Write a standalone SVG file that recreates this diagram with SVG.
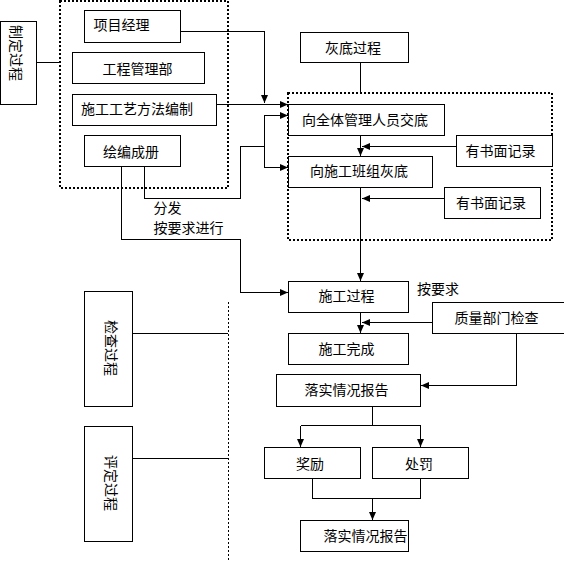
<svg xmlns="http://www.w3.org/2000/svg" width="564" height="562" viewBox="0 0 564 562">
<defs>
<marker id="ah" markerUnits="userSpaceOnUse" markerWidth="9" markerHeight="8" refX="8" refY="3.5" orient="auto">
<path d="M0,0 L8,3.5 L0,7 z" fill="#000"/>
</marker>
<style>
.box{fill:#fff;stroke:#000;stroke-width:1;shape-rendering:crispEdges}
.dot{fill:none;stroke:#000;stroke-width:2;stroke-dasharray:2 2;shape-rendering:crispEdges}
.dotl{fill:none;stroke:#000;stroke-width:1;stroke-dasharray:2 2;shape-rendering:crispEdges}
.ln{fill:none;stroke:#000;stroke-width:1;shape-rendering:crispEdges}
.ar{marker-end:url(#ah)}
text{font-family:"Noto Sans CJK SC","Liberation Sans",sans-serif;font-size:14px;fill:#000;text-anchor:middle;dominant-baseline:central}
</style>
</defs>
<rect width="564" height="562" fill="#fff"/>

<g id="groups">
<rect class="dot" x="60" y="1" width="168" height="187"/>
<rect class="dot" x="288" y="93" width="264" height="147"/>
<line class="dotl" x1="228.5" y1="302" x2="228.5" y2="562"/>
</g>

<g id="connectors">
<polyline class="ln" points="36,62.5 60,62.5"/>
<polyline class="ln ar" points="180,31.5 264.5,31.5 264.5,103"/>
<polyline class="ln ar" points="216,104.5 288,104.5"/>
<polyline class="ln" points="144.5,166 144.5,198.5 240.5,198.5 240.5,146.5 264.5,146.5"/>
<polyline class="ln" points="264.5,114.5 264.5,167.5"/>
<polyline class="ln ar" points="264,115.5 288,115.5"/>
<polyline class="ln ar" points="264,167.5 288,167.5"/>
<polyline class="ln ar" points="121.5,166 121.5,239.5 240.5,239.5 240.5,292.5 288,292.5"/>
<polyline class="ln" points="360.5,62 360.5,93"/>
<polyline class="ln ar" points="360.5,135 360.5,156"/>
<polyline class="ln ar" points="456,146.5 362,146.5"/>
<polyline class="ln ar" points="444,198.5 362,198.5"/>
<polyline class="ln ar" points="360.5,187 360.5,281"/>
<polyline class="ln ar" points="360.5,312 360.5,333"/>
<polyline class="ln ar" points="432,322.5 362,322.5"/>
<polyline class="ln ar" points="516.5,333 516.5,385.5 421,385.5"/>
<polyline class="ln" points="372.5,406 372.5,425.5"/>
<polyline class="ln ar" points="300.5,425.5 300.5,447"/>
<polyline class="ln ar" points="300.5,425.5 420.5,425.5 420.5,447"/>
<polyline class="ln" points="312.5,478 312.5,498.5 420.5,498.5 420.5,478"/>
<polyline class="ln ar" points="372.5,498.5 372.5,520"/>
<polyline class="ln" points="132,333.5 228,333.5"/>
<polyline class="ln" points="132,458.5 228,458.5"/>
</g>

<g id="n-zhiding"><rect class="box" x="0.5" y="21.5" width="36" height="83"/><text transform="translate(17,53) rotate(90)">制定过程</text></g>
<g id="n-xiangmu"><rect class="box" x="84.5" y="10.5" width="96" height="32"/><text x="121.5" y="24">项目经理</text></g>
<g id="n-gongcheng"><rect class="box" x="72.5" y="52.5" width="132" height="31"/><text x="137.5" y="68">工程管理部</text></g>
<g id="n-shigong-gongyi"><rect class="box" x="72.5" y="94.5" width="144" height="31"/><text x="137" y="108">施工工艺方法编制</text></g>
<g id="n-huibian"><rect class="box" x="84.5" y="135.5" width="96" height="31"/><text x="131" y="150.5">绘编成册</text></g>

<g id="n-huidi"><rect class="box" x="300.5" y="32.5" width="108" height="30"/><text x="353" y="47">灰底过程</text></g>
<g id="n-quanti"><rect class="box" x="288.5" y="104.5" width="156" height="31"/><text x="365" y="119">向全体管理人员交底</text></g>
<g id="n-banzu"><rect class="box" x="288.5" y="156.5" width="144" height="31"/><text x="359" y="170">向施工班组灰底</text></g>
<g id="n-jilu1"><rect class="box" x="456.5" y="135.5" width="96" height="31"/><text x="500.5" y="150">有书面记录</text></g>
<g id="n-jilu2"><rect class="box" x="444.5" y="187.5" width="96" height="31"/><text x="491" y="202">有书面记录</text></g>

<g id="labels">
<text x="167.5" y="207">分发</text>
<text x="188.5" y="227">按要求进行</text>
<text x="438" y="288">按要求</text>
</g>

<g id="n-shigong"><rect class="box" x="288.5" y="281.5" width="120" height="31"/><text x="346.5" y="295">施工过程</text></g>
<g id="n-zhiliang"><rect class="box" x="432.5" y="302.5" width="132" height="31"/><text x="496.5" y="316.5">质量部门检查</text></g>
<g id="n-wancheng"><rect class="box" x="288.5" y="333.5" width="120" height="31"/><text x="346.5" y="348">施工完成</text></g>
<g id="n-baogao1"><rect class="box" x="276.5" y="374.5" width="144" height="32"/><text x="346.5" y="389">落实情况报告</text></g>
<g id="n-jiangli"><rect class="box" x="264.5" y="447.5" width="96" height="31"/><text x="310" y="463">奖励</text></g>
<g id="n-chufa"><rect class="box" x="372.5" y="447.5" width="96" height="31"/><text x="419" y="463">处罚</text></g>
<g id="n-baogao2"><rect class="box" x="300.5" y="520.5" width="108" height="31"/><text x="365.5" y="534.5">落实情况报告</text></g>

<g id="n-jiancha"><rect class="box" x="84.5" y="291.5" width="48" height="115"/><text transform="translate(112,348) rotate(90)">检查过程</text></g>
<g id="n-pingding"><rect class="box" x="84.5" y="426.5" width="48" height="115"/><text transform="translate(112,483) rotate(90)">评定过程</text></g>
</svg>
